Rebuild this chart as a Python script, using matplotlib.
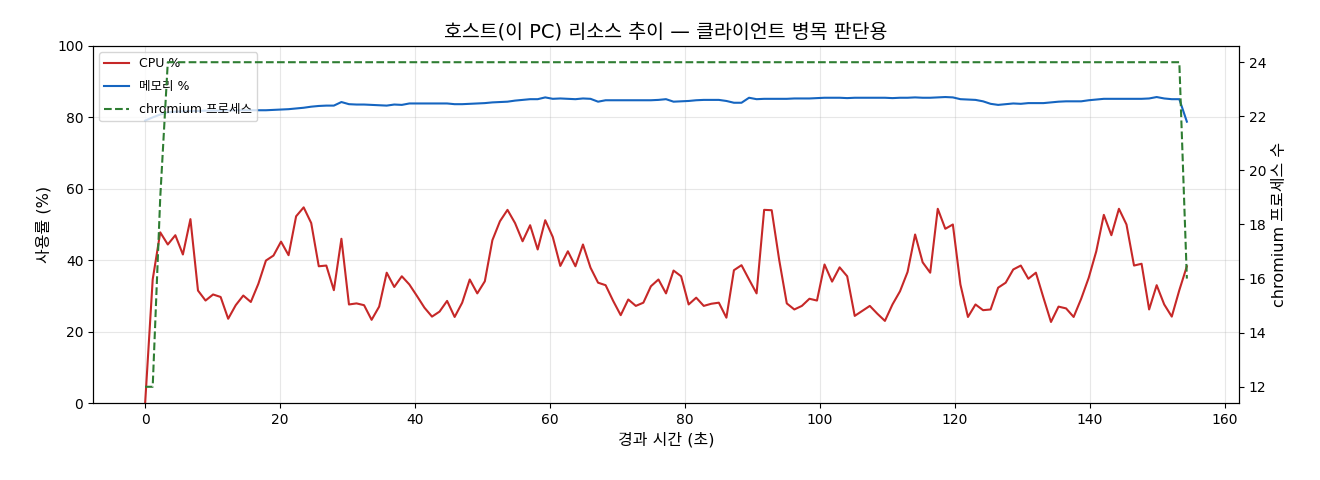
import numpy as np
import matplotlib
matplotlib.use("Agg")
import matplotlib.pyplot as plt

plt.rcParams['font.family'] = ['DejaVu Sans', 'Noto Sans CJK KR']
plt.rcParams['axes.unicode_minus'] = False

cpu = [0, 34.6, 47.8, 44.4, 47.0, 41.6, 51.5, 31.5, 28.7, 30.4,
       29.7, 23.6, 27.4, 30.1, 28.3, 33.4, 39.9, 41.3, 45.2, 41.4,
       52.3, 54.8, 50.4, 38.3, 38.5, 31.6, 46.0, 27.6, 27.9, 27.4,
       23.3, 27.0, 36.5, 32.5, 35.5, 33.2, 30.0, 26.7, 24.2, 25.6,
       28.6, 24.1, 28.1, 34.6, 30.7, 34.1, 45.6, 50.9, 54.1, 50.4,
       45.3, 49.8, 43.0, 51.2, 46.5, 38.4, 42.5, 38.3, 44.4, 37.9,
       33.7, 33.0, 28.6, 24.6, 29.0, 27.2, 28.1, 32.7, 34.6, 30.7,
       37.1, 35.5, 27.6, 29.5, 27.2, 27.8, 28.1, 23.9, 37.2, 38.6,
       34.6, 30.7, 54.1, 54.0, 40.0, 27.9, 26.2, 27.2, 29.2, 28.7,
       38.8, 34.0, 38.0, 35.5, 24.4, 25.8, 27.2, 25.0, 23.0, 27.6,
       31.3, 36.7, 47.2, 39.4, 36.5, 54.4, 48.8, 50.0, 33.2, 24.1,
       27.6, 26.0, 26.2, 32.3, 33.7, 37.4, 38.5, 34.8, 36.5, 29.5,
       22.7, 27.0, 26.5, 24.1, 29.2, 35.1, 42.5, 52.7, 47.0, 54.4,
       50.0, 38.5, 39.0, 26.2, 33.0, 27.6, 24.2, 31.6, 38.3]

mem = [79.1, 80.0, 80.8, 81.4, 81.6, 81.7, 81.8, 81.8, 81.9, 81.9,
       81.9, 82.0, 82.0, 82.0, 82.0, 82.0, 82.0, 82.1, 82.2, 82.3,
       82.5, 82.7, 83.0, 83.2, 83.3, 83.3, 84.3, 83.7, 83.6, 83.6,
       83.5, 83.4, 83.3, 83.6, 83.5, 83.9, 83.9, 83.9, 83.9, 83.9,
       83.9, 83.7, 83.7, 83.8, 83.9, 84.0, 84.2, 84.3, 84.4, 84.7,
       84.9, 85.1, 85.1, 85.6, 85.2, 85.3, 85.2, 85.1, 85.3, 85.2,
       84.4, 84.8, 84.8, 84.8, 84.8, 84.8, 84.8, 84.8, 84.9, 85.1,
       84.4, 84.5, 84.6, 84.8, 84.9, 84.9, 84.9, 84.6, 84.1, 84.1,
       85.5, 85.1, 85.2, 85.2, 85.2, 85.2, 85.3, 85.3, 85.3, 85.4,
       85.5, 85.5, 85.5, 85.4, 85.5, 85.5, 85.5, 85.5, 85.5, 85.4,
       85.5, 85.5, 85.6, 85.5, 85.5, 85.6, 85.7, 85.6, 85.1, 85.0,
       84.9, 84.5, 83.8, 83.5, 83.7, 83.9, 83.8, 84.0, 84.0, 84.0,
       84.2, 84.4, 84.5, 84.5, 84.5, 84.8, 85.0, 85.2, 85.2, 85.2,
       85.2, 85.2, 85.2, 85.3, 85.7, 85.3, 85.1, 85.1, 78.8]

chromium = [12, 12, 19] + [24] * 135 + [16]

t_end = 154.4
elapsed = np.linspace(0, t_end, len(cpu))

fig = plt.figure(figsize=(13.2, 4.8), dpi=100)
ax = fig.add_axes([0.0705, 0.1604, 0.8681, 0.7438])
ax2 = ax.twinx()

l1, = ax.plot(elapsed, cpu, color='#c62828', lw=1.5, label='CPU %')
l2, = ax.plot(elapsed, mem, color='#1565c0', lw=1.5, label='메모리 %')
l3, = ax2.plot(elapsed, chromium, color='#2e7d32', lw=1.5, ls='--', label='chromium 프로세스')

ax.set_ylim(0, 100)
ax.set_ylabel('사용률 (%)', fontsize=11.5)
ax.set_xlabel('경과 시간 (초)', fontsize=11.5)
ax2.set_ylabel('chromium 프로세스 수', fontsize=11.5)
ax.set_title('호스트(이 PC) 리소스 추이 — 클라이언트 병목 판단용', fontsize=14)
ax.grid(True, alpha=0.3)
ax.tick_params(labelsize=10)
ax2.tick_params(labelsize=10)
ax.legend(handles=[l1, l2, l3], loc='upper left', fontsize=9, labelspacing=0.8)

fig.savefig('out.png', dpi=100)
